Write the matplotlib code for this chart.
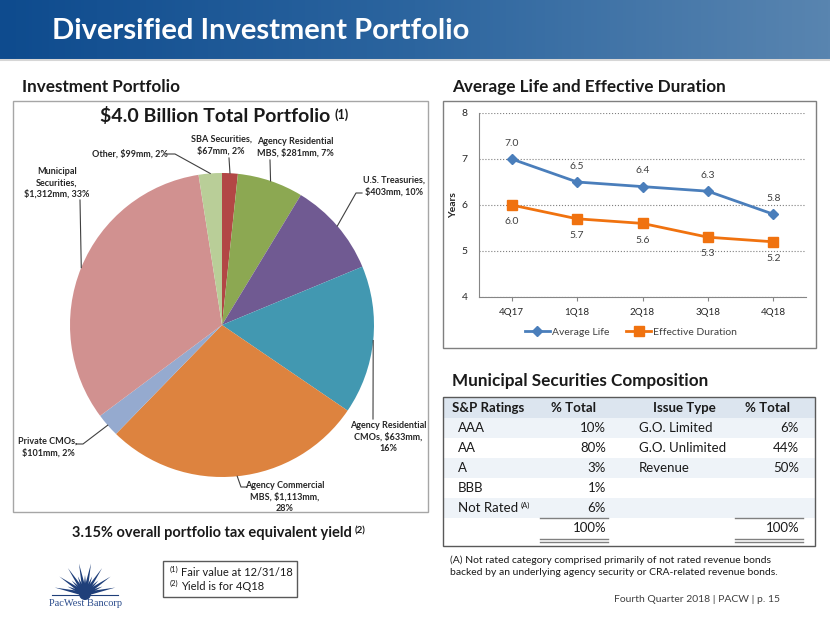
import numpy as np
import matplotlib
matplotlib.use("Agg")
import matplotlib.pyplot as plt
from matplotlib.patches import Rectangle, Polygon, Wedge
from matplotlib.colors import LinearSegmentedColormap

plt.rcParams['font.family'] = ['Lato', 'DejaVu Sans']
plt.rcParams['text.parse_math'] = False

# ---- data ----
pie_names = ["SBA Securities", "Agency Residential\nMBS", "U.S. Treasuries",
             "Agency Residential\nCMOs", "Agency Commercial\nMBS", "Private CMOs",
             "Municipal\nSecurities", "Other"]
pie_values = [67, 281, 403, 633, 1113, 101, 1312, 99]   # $mm
pie_pcts = [2, 7, 10, 16, 28, 2, 33, 2]
pie_colors = ['#B24745', '#8CA852', '#705A92', '#4298B1', '#DD833F',
              '#95AACF', '#D19190', '#B9CE98']

quarters = ["4Q17", "1Q18", "2Q18", "3Q18", "4Q18"]
avg_life = [7.0, 6.5, 6.4, 6.3, 5.8]
eff_dur = [6.0, 5.7, 5.6, 5.3, 5.2]

ratings = ["AAA", "AA", "A", "BBB", "Not Rated"]
rating_pct = [10, 80, 3, 1, 6]
issue_types = ["G.O. Limited", "G.O. Unlimited", "Revenue"]
issue_pct = [6, 44, 50]

# ---- layout (pixels) ----
W, H = 830, 623
fig = plt.figure(figsize=(W / 100, H / 100), dpi=100)
fig.patch.set_facecolor('white')

ov = fig.add_axes([0, 0, 1, 1])
ov.set_zorder(5)
ov.patch.set_facecolor('none')
ov.axis('off')

# header band
cmap = LinearSegmentedColormap.from_list('hdr', ['#0E4B8E', '#2C659F', '#5985B0'])
ov.imshow(np.linspace(0, 1, 256).reshape(1, -1), cmap=cmap, aspect='auto',
          extent=(0, W, 59, 0), zorder=0)
ov.plot([0, W], [60, 60], color='#BBBBBB', lw=1.5, alpha=0.6)
ov.set_xlim(0, W)
ov.set_ylim(H, 0)
ov.text(52, 31, "Diversified Investment Portfolio", color='white', fontsize=21,
        fontweight='bold', va='center', ha='left')

renderer = fig.canvas.get_renderer()


def sup_after(t, s, size, dy=0, gap=2):
    bb = t.get_window_extent(renderer)
    x1, ytop = ov.transData.inverted().transform((bb.x1, bb.y1))
    return ov.text(x1 + gap, ytop + dy, s, fontsize=size, ha='left', va='top',
                   color=t.get_color(), fontweight=t.get_fontweight())


dark = '#1A1A1A'
ov.text(22, 87, "Investment Portfolio", fontsize=12.3, fontweight='bold', color=dark, va='center')
ov.text(452, 87, "Average Life and Effective Duration", fontsize=12.3, fontweight='bold', color=dark, va='center')
ov.text(452, 381, "Municipal Securities Composition", fontsize=12.3, fontweight='bold', color=dark, va='center')

# ---- pie ----
ov.add_patch(Rectangle((13, 101), 415, 411, fill=False, ec='#A6A6A6', lw=1))
cx, cy, R = 222, 325, 152
pax = fig.add_axes([(cx - R) / W, 1 - (cy + R) / H, 2 * R / W, 2 * R / H])
pax.pie(pie_values, colors=pie_colors, startangle=90, counterclock=False,
        wedgeprops=dict(linewidth=0))
pax.set_xlim(-1, 1)
pax.set_ylim(-1, 1)

t = ov.text(100, 116, "$4.0 Billion Total Portfolio", fontsize=14, fontweight='bold',
            color=dark, ha='left', va='center')
sup_after(t, "(1)", 9, dy=1, gap=4)

breaks = [("\n", " "), (" ", " "), ("\n", " "), (" ", "\n"), (" ", "\n"),
          ("\n", " "), ("\n", " "), (" ", " ")]
label_pos = [(221, 145), (295, 147), (394, 186), (388, 437), (285, 497),
             (48, 447), (57, 183), (130, 154)]
lead_start = [(229, 158), (270, 160), (362, 193), (373, 419), (247, 487),
              (76, 444), (80, 200), (167, 154)]
lead_mid = [None, None, (356, 193), None, (241, 487), (83, 444), None, (175, 154)]

total = sum(pie_values)
cum = np.cumsum([0] + pie_values)
for i, (name, v, p) in enumerate(zip(pie_names, pie_values, pie_pcts)):
    b1, b2 = breaks[i]
    lab = f"{name},{b1}${v:,}mm,{b2}{p}%"
    ov.text(*label_pos[i], lab, fontsize=6.5, fontweight='bold', color='#262626',
            ha='center', va='center', linespacing=1.3)
    mid_frac = (cum[i] + v / 2) / total
    ang = np.deg2rad(90 - 360 * mid_frac)
    ex, ey = cx + R * np.cos(ang), cy - R * np.sin(ang)
    pts = [lead_start[i]] + ([lead_mid[i]] if lead_mid[i] else []) + [(ex, ey)]
    xs, ys = zip(*pts)
    ov.plot(xs, ys, color='#404040', lw=0.8)

t = ov.text(212, 533, "3.15% overall portfolio tax equivalent yield", fontsize=10.5,
            fontweight='bold', color=dark, ha='center', va='center')
sup_after(t, "(2)", 7, dy=0, gap=3)

# footnote box
ov.add_patch(Rectangle((163, 561), 134, 36, fill=False, ec='#595959', lw=1))
ov.text(170, 569, "(1)", fontsize=5.5, color=dark, va='center')
ov.text(181, 573, "Fair value at 12/31/18", fontsize=8, color=dark, va='center')
ov.text(170, 583, "(2)", fontsize=5.5, color=dark, va='center')
ov.text(181, 587, "Yield is for 4Q18", fontsize=8, color=dark, va='center')

# logo
navy = '#1F3F7A'
hub = (85, 594)
angles = np.linspace(12, 168, 15)
for k, a in enumerate(angles):
    L = 31 if k % 2 == 0 else 19
    ar = np.deg2rad(a)
    d = np.array([np.cos(ar), -np.sin(ar)])
    n = np.array([np.sin(ar), np.cos(ar)])
    h = np.array(hub)
    ov.add_patch(Polygon([h + 2.2 * n, h - 2.2 * n, h + L * d], closed=True, fc=navy, ec='none'))
ov.add_patch(Wedge(hub, 6, 0, 180, fc=navy, ec='none'))
ov.plot([52, 118], [595, 595], color=navy, lw=0.8)
ov.text(85, 603, "PacWest Bancorp", family=['Liberation Serif', 'DejaVu Serif'],
        fontsize=7.5, color='#2B4C8C', ha='center', va='center')

# ---- line chart ----
ov.add_patch(Rectangle((443, 101), 373, 247, fill=False, ec='#7F7F7F', lw=1))
lax = fig.add_axes([479 / W, 1 - 297 / H, (806 - 479) / W, (297 - 113) / H])
blue, orange = '#4A7EBB', '#F0720F'
x = np.arange(len(quarters))
l1, = lax.plot(x, avg_life, color=blue, lw=2, marker='D', ms=5, label='Average Life')
l2, = lax.plot(x, eff_dur, color=orange, lw=2, marker='s', ms=7, label='Effective Duration')
for xi, v in zip(x, avg_life):
    lax.annotate(f"{v:.1f}", (xi, v), xytext=(0, 11.5), textcoords='offset points',
                 ha='center', va='center', fontsize=7.5, color='#404040')
for xi, v in zip(x, eff_dur):
    lax.annotate(f"{v:.1f}", (xi, v), xytext=(0, -12), textcoords='offset points',
                 ha='center', va='center', fontsize=7.5, color='#404040')
lax.set_xlim(-0.5, 4.5)
lax.set_ylim(4, 8)
lax.set_yticks([4, 5, 6, 7, 8])
lax.set_xticks(x)
lax.set_xticklabels(quarters)
lax.yaxis.grid(True, ls=':', color='#7F7F7F', lw=0.8)
lax.set_axisbelow(True)
for s in ['top', 'right']:
    lax.spines[s].set_visible(False)
for s in ['left', 'bottom']:
    lax.spines[s].set_color('#868686')
lax.tick_params(axis='y', length=0, pad=8, labelsize=7.5, labelcolor='#262626')
lax.tick_params(axis='x', length=3, color='#868686', pad=5, labelsize=7, labelcolor='#262626')
lax.set_ylabel("Years", fontsize=7.5, fontweight='bold', labelpad=3, color='#262626')
fig.legend(handles=[l1, l2], loc='center', bbox_to_anchor=(631 / W, 1 - 332 / H),
           ncol=2, frameon=False, fontsize=7.5, handlelength=2.4, columnspacing=1.6,
           handletextpad=0.2, labelcolor='#404040')

# ---- table ----
ov.add_patch(Rectangle((443, 397), 372, 21, fc='#DCE5EF', ec='none'))
row_y = [428, 448, 468, 488, 508]
for k, ry in enumerate(row_y):
    if k % 2 == 0:
        ov.add_patch(Rectangle((443, ry - 10), 372, 20, fc='#EEF3F8', ec='none'))
ov.add_patch(Rectangle((443, 397), 372, 149, fill=False, ec='#595959', lw=1))

tf = 9.5
ov.text(452, 408, "S&P Ratings", fontsize=tf, fontweight='bold', color=dark, va='center')
ov.text(596, 408, "% Total", fontsize=tf, fontweight='bold', color=dark, va='center', ha='right')
ov.text(653, 408, "Issue Type", fontsize=tf, fontweight='bold', color=dark, va='center')
ov.text(790, 408, "% Total", fontsize=tf, fontweight='bold', color=dark, va='center', ha='right')
for k, (r, p) in enumerate(zip(ratings, rating_pct)):
    t = ov.text(458, row_y[k], r, fontsize=tf, color=dark, va='center')
    ov.text(606, row_y[k], f"{p}%", fontsize=tf, color=dark, va='center', ha='right')
    if r == "Not Rated":
        sup_after(t, "(A)", 5.5, dy=0, gap=2)
for k, (r, p) in enumerate(zip(issue_types, issue_pct)):
    ov.text(639, row_y[k], r, fontsize=tf, color=dark, va='center')
    ov.text(799, row_y[k], f"{p}%", fontsize=tf, color=dark, va='center', ha='right')
ov.text(606, 528, f"{sum(rating_pct)}%", fontsize=tf, color=dark, va='center', ha='right')
ov.text(799, 528, f"{sum(issue_pct)}%", fontsize=tf, color=dark, va='center', ha='right')
for xa, xb in [(540, 608), (735, 803)]:
    ov.plot([xa, xb], [518, 518], color='#808080', lw=1)
    ov.plot([xa, xb], [539, 539], color='#808080', lw=1)
    ov.plot([xa, xb], [541.5, 541.5], color='#808080', lw=1)

ov.text(450, 566, "(A) Not rated category comprised primarily of not rated revenue bonds\n"
        "backed by an underlying agency security or CRA-related revenue bonds.",
        fontsize=7.5, color=dark, va='center', linespacing=1.45)

ov.text(780, 600, "Fourth Quarter 2018 | PACW | p. 15", fontsize=7.5, color='#404040',
        ha='right', va='center')

ov.set_xlim(0, W)
ov.set_ylim(H, 0)
fig.savefig("out.png", dpi=100)
